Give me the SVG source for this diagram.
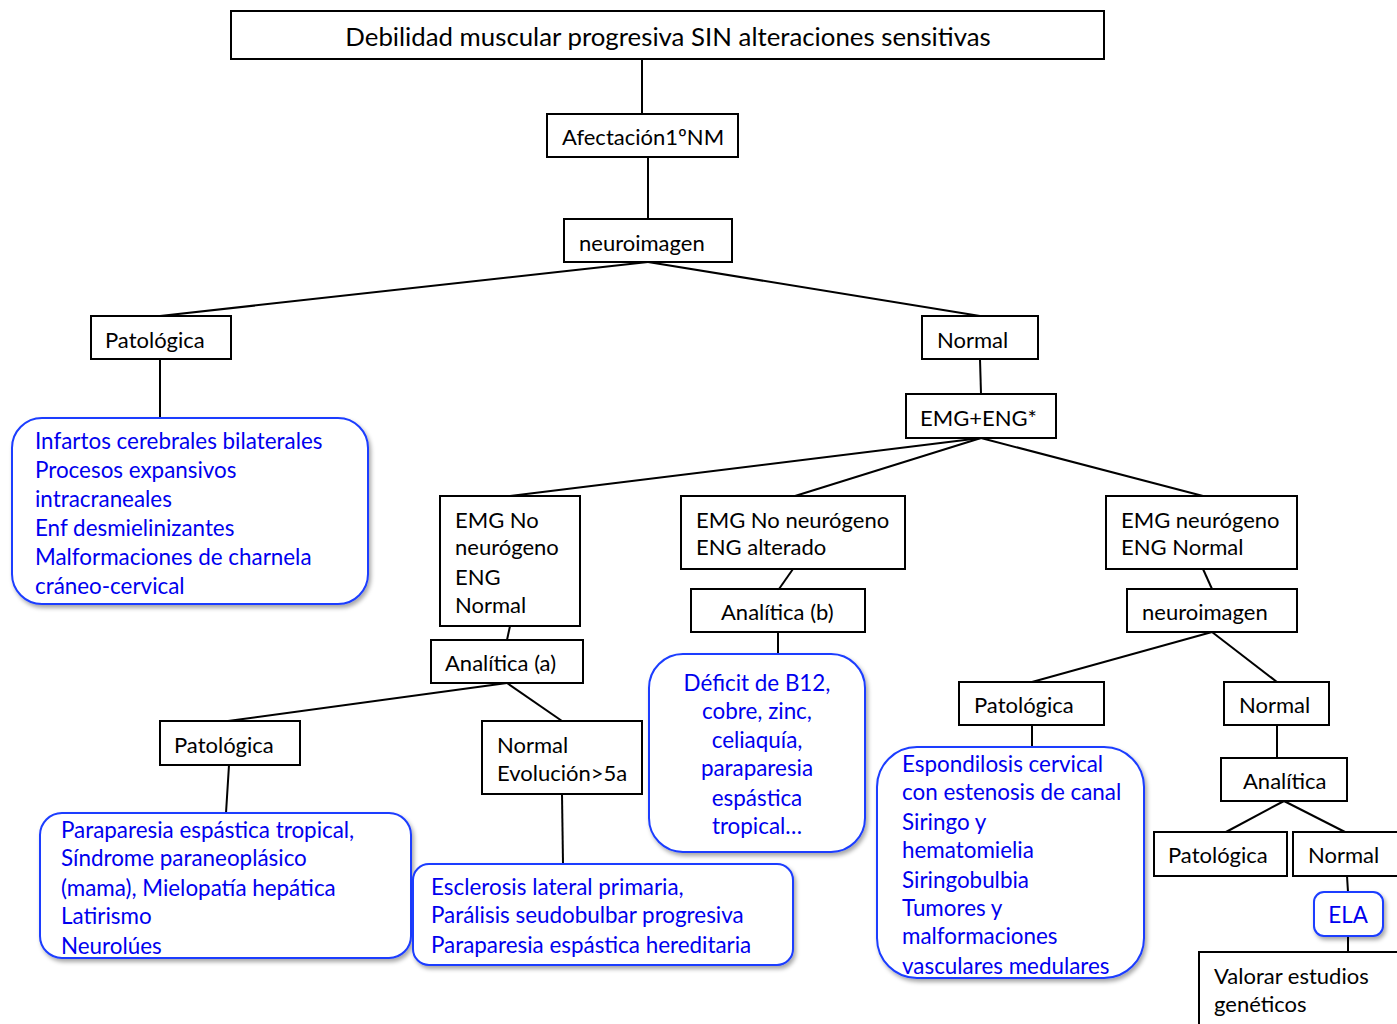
<svg xmlns="http://www.w3.org/2000/svg" width="1397" height="1024" viewBox="0 0 1397 1024">
<style>
.b{fill:#fff;stroke:#000;stroke-width:2}
.r{fill:#fff;stroke:#1a3cff;stroke-width:2;filter:url(#sh)}
.t{font-family:Lato,"Liberation Sans",sans-serif;font-size:22px;fill:#000}
.h{font-size:25.8px}
.bl{font-family:Lato,"Liberation Sans",sans-serif;font-size:22.4px;fill:#0000ee}
.c{fill:none;stroke:#000;stroke-width:2}
</style>
<defs>
<filter id="sh" x="-10%" y="-10%" width="130%" height="130%">
<feDropShadow dx="2" dy="3" stdDeviation="2" flood-color="#000" flood-opacity="0.35"/>
</filter>
</defs>
<rect width="1397" height="1024" fill="#fff"/>
<g id="connectors" class="c">
<line x1="642" y1="59" x2="642" y2="114"/>
<line x1="648" y1="157" x2="648" y2="219"/>
<line x1="648" y1="262" x2="160" y2="316"/>
<line x1="648" y1="262" x2="980" y2="316"/>
<line x1="160" y1="359" x2="160" y2="418"/>
<line x1="980" y1="359" x2="981" y2="394"/>
<line x1="981" y1="438" x2="510" y2="496"/>
<line x1="981" y1="438" x2="795" y2="496"/>
<line x1="981" y1="438" x2="1203" y2="496"/>
<line x1="510" y1="626" x2="507" y2="640"/>
<line x1="507" y1="683" x2="228" y2="721"/>
<line x1="507" y1="683" x2="562" y2="721"/>
<line x1="229" y1="765" x2="226" y2="813"/>
<line x1="562" y1="794" x2="563" y2="864"/>
<line x1="793" y1="569" x2="779" y2="589"/>
<line x1="778" y1="632" x2="778" y2="654"/>
<line x1="1203" y1="569" x2="1212" y2="589"/>
<line x1="1212" y1="632" x2="1032" y2="682"/>
<line x1="1212" y1="632" x2="1277" y2="682"/>
<line x1="1032" y1="725" x2="1032" y2="747"/>
<line x1="1277" y1="725" x2="1277" y2="758"/>
<line x1="1284" y1="801" x2="1226" y2="832"/>
<line x1="1284" y1="801" x2="1345" y2="832"/>
<line x1="1347" y1="876" x2="1348" y2="892"/>
<line x1="1348" y1="936" x2="1348" y2="952"/>
</g>
<g id="n-top"><rect class="b" x="231" y="11" width="873" height="48"/><text class="t h" x="668" y="46" text-anchor="middle">Debilidad muscular progresiva SIN alteraciones sensitivas</text></g>
<g id="n-afect"><rect class="b" x="547" y="114" width="191" height="43"/><text class="t" x="562" y="145">Afectación1ºNM</text></g>
<g id="n-neuro1"><rect class="b" x="564" y="219" width="168" height="43"/><text class="t" x="579" y="251">neuroimagen</text></g>
<g id="n-pat1"><rect class="b" x="91" y="316" width="140" height="43"/><text class="t" x="105" y="348">Patológica</text></g>
<g id="n-blue1"><rect class="r" x="12" y="418" width="356" height="186" rx="30"/>
<text class="bl"><tspan x="35" y="449">Infartos cerebrales bilaterales</tspan><tspan x="35" y="478">Procesos expansivos</tspan><tspan x="35" y="507">intracraneales</tspan><tspan x="35" y="536">Enf desmielinizantes</tspan><tspan x="35" y="565">Malformaciones de charnela</tspan><tspan x="35" y="594">cráneo-cervical</tspan></text></g>
<g id="n-normal1"><rect class="b" x="922" y="316" width="116" height="43"/><text class="t" x="937" y="348">Normal</text></g>
<g id="n-emgeng"><rect class="b" x="906" y="394" width="150" height="44"/><text class="t" x="920" y="426">EMG+ENG*</text></g>
<g id="n-emg1"><rect class="b" x="440" y="496" width="140" height="130"/><text class="t"><tspan x="455" y="528">EMG No</tspan><tspan x="455" y="555">neurógeno</tspan><tspan x="455" y="585">ENG</tspan><tspan x="455" y="613">Normal</tspan></text></g>
<g id="n-anaa"><rect class="b" x="431" y="640" width="152" height="43"/><text class="t" x="445" y="671">Analítica (a)</text></g>
<g id="n-pat2"><rect class="b" x="160" y="721" width="140" height="44"/><text class="t" x="174" y="753">Patológica</text></g>
<g id="n-blue2"><rect class="r" x="40" y="813" width="371" height="145" rx="22"/>
<text class="bl"><tspan x="61" y="838">Paraparesia espástica tropical,</tspan><tspan x="61" y="866">Síndrome paraneoplásico</tspan><tspan x="61" y="896">(mama), Mielopatía hepática</tspan><tspan x="61" y="924">Latirismo</tspan><tspan x="61" y="954">Neurolúes</tspan></text></g>
<g id="n-normev"><rect class="b" x="482" y="721" width="160" height="73"/><text class="t"><tspan x="497" y="753">Normal</tspan><tspan x="497" y="781">Evolución&gt;5a</tspan></text></g>
<g id="n-blue3"><rect class="r" x="413" y="864" width="380" height="101" rx="16"/>
<text class="bl"><tspan x="431" y="895">Esclerosis lateral primaria,</tspan><tspan x="431" y="923">Parálisis seudobulbar progresiva</tspan><tspan x="431" y="953">Paraparesia espástica hereditaria</tspan></text></g>
<g id="n-emg2"><rect class="b" x="681" y="496" width="224" height="73"/><text class="t"><tspan x="696" y="528">EMG No neurógeno</tspan><tspan x="696" y="555">ENG alterado</tspan></text></g>
<g id="n-anab"><rect class="b" x="691" y="589" width="174" height="43"/><text class="t" x="721" y="620">Analítica (b)</text></g>
<g id="n-blue4"><rect class="r" x="649" y="654" width="216" height="198" rx="34"/>
<text class="bl" text-anchor="middle"><tspan x="757" y="691">Déficit de B12,</tspan><tspan x="757" y="719">cobre, zinc,</tspan><tspan x="757" y="748">celiaquía,</tspan><tspan x="757" y="776">paraparesia</tspan><tspan x="757" y="806">espástica</tspan><tspan x="757" y="834">tropical…</tspan></text></g>
<g id="n-emg3"><rect class="b" x="1106" y="496" width="191" height="73"/><text class="t"><tspan x="1121" y="528">EMG neurógeno</tspan><tspan x="1121" y="555">ENG Normal</tspan></text></g>
<g id="n-neuro2"><rect class="b" x="1127" y="589" width="170" height="43"/><text class="t" x="1142" y="620">neuroimagen</text></g>
<g id="n-pat3"><rect class="b" x="959" y="682" width="145" height="43"/><text class="t" x="974" y="713">Patológica</text></g>
<g id="n-blue5"><rect class="r" x="877" y="747" width="267" height="231" rx="40"/>
<text class="bl"><tspan x="902" y="772">Espondilosis cervical</tspan><tspan x="902" y="800">con estenosis de canal</tspan><tspan x="902" y="830">Siringo y</tspan><tspan x="902" y="858">hematomielia</tspan><tspan x="902" y="888">Siringobulbia</tspan><tspan x="902" y="916">Tumores y</tspan><tspan x="902" y="944">malformaciones</tspan><tspan x="902" y="974">vasculares medulares</tspan></text></g>
<g id="n-normal2"><rect class="b" x="1224" y="682" width="105" height="43"/><text class="t" x="1239" y="713">Normal</text></g>
<g id="n-ana"><rect class="b" x="1221" y="758" width="126" height="43"/><text class="t" x="1243" y="789">Analítica</text></g>
<g id="n-pat4"><rect class="b" x="1154" y="832" width="133" height="44"/><text class="t" x="1168" y="863">Patológica</text></g>
<g id="n-normal3"><rect class="b" x="1293" y="832" width="110" height="44"/><text class="t" x="1308" y="863">Normal</text></g>
<g id="n-ela"><rect class="r" x="1314" y="892" width="69" height="44" rx="10"/><text class="bl" x="1348" y="923" text-anchor="middle">ELA</text></g>
<g id="n-valorar"><rect class="b" x="1199" y="952" width="210" height="80"/><text class="t"><tspan x="1214" y="984">Valorar estudios</tspan><tspan x="1214" y="1012">genéticos</tspan></text></g>
</svg>
